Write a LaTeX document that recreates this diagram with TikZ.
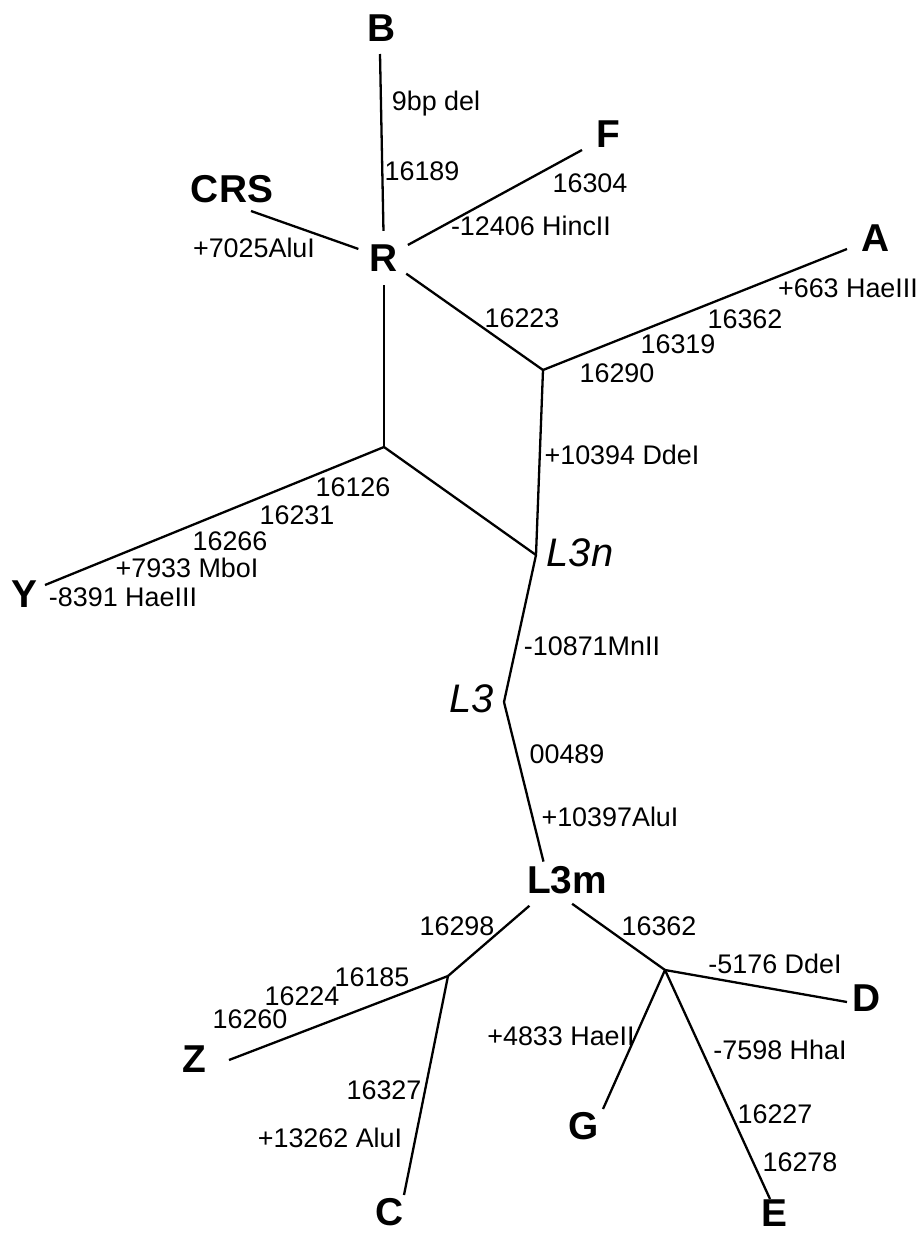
\documentclass[tikz,border=0pt]{standalone}
\usepackage{fontspec}
\setmainfont{Liberation Sans}

\tikzset{
  branch/.style={line width=2.3bp},
  hub/.style={circle,minimum size=54bp,inner sep=0pt},
  taxon/.style={font=\fontsize{39}{44}\selectfont\bfseries,inner sep=0pt},
  clade/.style={font=\fontsize{40}{46}\selectfont\itshape,inner sep=0pt},
  site/.style={font=\fontsize{27}{30}\selectfont,inner sep=0pt,text depth=0pt}
}

\begin{document}
\begin{tikzpicture}[x=1bp,y=-1bp]
\useasboundingbox (0,0) rectangle (920,1236);
% inner nodes
\node[hub,taxon] (R) at (384,258) {R};
\coordinate (jA) at (543,370);
\coordinate (jY) at (384,447);
\coordinate (L3n) at (536,555);
\coordinate (L3) at (504,702);
\node[hub] (L3m) at (550,888) {};
\coordinate (jZ) at (448,976);
\coordinate (jD) at (665,970);
% branch tips
\coordinate (tB) at (380,54);
\coordinate (tCRS) at (251,211);
\coordinate (tF) at (582,150);
\coordinate (tA) at (847,249);
\coordinate (tY) at (45,585);
\coordinate (tZ) at (229,1060);
\coordinate (tC) at (404,1195);
\coordinate (tG) at (603,1109);
\coordinate (tE) at (770,1199);
\coordinate (tD) at (847,1002);
% branches
\draw[branch] (R) -- (tB);
\draw[branch] (R) -- (tCRS);
\draw[branch] (R) -- (tF);
\draw[branch] (R) -- (jA);
\draw[branch] (R) -- (jY);
\draw[branch] (jA) -- (tA);
\draw[branch] (jA) -- (L3n);
\draw[branch] (jY) -- (tY);
\draw[branch] (jY) -- (L3n);
\draw[branch] (L3n) -- (L3);
\draw[branch] (L3) -- (L3m);
\draw[branch] (L3m) -- (jZ);
\draw[branch] (L3m) -- (jD);
\draw[branch] (jZ) -- (tZ);
\draw[branch] (jZ) -- (tC);
\draw[branch] (jD) -- (tD);
\draw[branch] (jD) -- (tG);
\draw[branch] (jD) -- (tE);
% taxa
\node[taxon] (B) at (382,28) {B};
\node[taxon] (CRS) at (232,189) {CRS};
\node[taxon] (F) at (608,134) {F};
\node[taxon] (A) at (876,238) {A};
\node[taxon] (Y) at (24,594) {Y};
\node[taxon] (L3mtext) at (567,880) {L3m};
\node[taxon] (Z) at (194,1059) {Z};
\node[taxon] (C) at (390,1212) {C};
\node[taxon] (G) at (584,1126) {G};
\node[taxon] (E) at (774,1213) {E};
\node[taxon] (D) at (867,998) {D};
\node[clade] (L3ntext) at (580,553) {L3n};
\node[clade] (L3text) at (472,699) {L3};
% mutations
\node[site] (mB1) at (436,101) {9bp del};
\node[site] (mB2) at (422,171) {16189};
\node[site] (mCRS) at (254,248) {+7025AluI};
\node[site] (mF1) at (590,183) {16304};
\node[site] (mF2) at (531,226) {-12406 HincII};
\node[site] (mRA) at (522,318) {16223};
\node[site] (mA1) at (848,288) {+663 HaeIII};
\node[site] (mA2) at (745,319) {16362};
\node[site] (mA3) at (678,344) {16319};
\node[site] (mA4) at (617,373) {16290};
\node[site] (mAN) at (622,455) {+10394 DdeI};
\node[site] (mY1) at (353,487) {16126};
\node[site] (mY2) at (297,515) {16231};
\node[site] (mY3) at (230,541) {16266};
\node[site] (mY4) at (187,568) {+7933 MboI};
\node[site] (mY5) at (123,597) {-8391 HaeIII};
\node[site] (mN) at (592,646) {-10871MnII};
\node[site] (mM1) at (567,754) {00489};
\node[site] (mM2) at (610,817) {+10397AluI};
\node[site] (mMZ) at (457,926) {16298};
\node[site] (mZ1) at (372,977) {16185};
\node[site] (mZ2) at (302,996) {16224};
\node[site] (mZ3) at (250,1019) {16260};
\node[site] (mC1) at (384,1090) {16327};
\node[site] (mC2) at (330,1138) {+13262 AluI};
\node[site] (mMD) at (659,926) {16362};
\node[site] (mD) at (775,964) {-5176 DdeI};
\node[site] (mG) at (561,1036) {+4833 HaeII};
\node[site] (mE1) at (780,1050) {-7598 HhaI};
\node[site] (mE2) at (775,1114) {16227};
\node[site] (mE3) at (800,1162) {16278};
\end{tikzpicture}
\end{document}
